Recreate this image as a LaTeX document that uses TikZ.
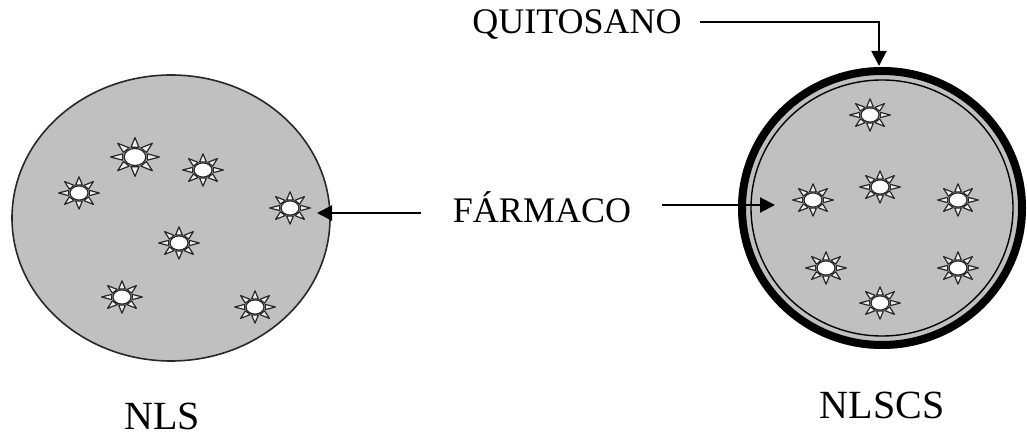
\documentclass[tikz,border=0pt]{standalone}
\usepackage{fontspec}
\setmainfont{Liberation Serif}
\usetikzlibrary{arrows.meta}

\definecolor{nucleo}{RGB}{192,192,192}
\definecolor{borde}{RGB}{40,40,40}

\tikzset{
  rotulo/.style={font=\fontsize{18}{20}\selectfont, inner sep=0pt},
  siglas/.style={font=\fontsize{20}{22}\selectfont, inner sep=0pt},
  flecha/.style={line width=1pt, -{Triangle[length=7.5pt,width=7.5pt]}},
  petalo/.style={draw=borde, fill=white!75!nucleo, line width=0.6pt, line join=round},
  pics/droga/.style={code={
    \begin{scope}[xscale=1.2,yscale=0.95]
      \foreach \a in {0,45,...,315}
        \draw[petalo, rotate=\a] (8.5,-2.8) -- (17,0) -- (8.5,2.8) -- cycle;
      \draw[draw=borde, line width=0.6pt, fill=white] (0,0) circle [radius=7.5];
    \end{scope}
  }}
}

\begin{document}
\begin{tikzpicture}[x=0.5pt,y=-0.5pt]
  \useasboundingbox (0,0) rectangle (1027,437);

  % nanopartícula sin recubrir
  \draw[fill=nucleo, draw=borde, line width=0.8pt] (171,218) ellipse [x radius=159, y radius=143];
  \pic[scale=1.2] at (135,157) {droga};
  \foreach \p in {(203,170),(79,193),(290,208),(179,243),(122,297),(255,307)}
    \pic at \p {droga};

  % nanopartícula con capa de quitosano
  \fill[nucleo] (882,208) ellipse [x radius=144, y radius=141];
  \draw[line width=4pt] (882,208) ellipse [x radius=140, y radius=137];
  \draw[line width=0.7pt] (882,208) ellipse [x radius=131, y radius=128];
  \foreach \p in {(870,115),(880,187),(813,200),(958,200),(826,268),(958,268),(880,303)}
    \pic at \p {droga};

  % rótulos
  \node[rotulo] (quitosano) at (577,25) {QUITOSANO};
  \node[rotulo] (farmaco) at (542,207) {FÁRMACO};
  \node[siglas] (nls) at (162,416) {NLS};
  \node[siglas] (nlscs) at (882,405) {NLSCS};

  \coordinate (capa) at (879,66);
  \coordinate (punta nls) at (317,213);
  \coordinate (punta nlscs) at (775,205);
  \draw[flecha] ([xshift=9pt,yshift=1.5pt]quitosano.east) -| (capa);
  \draw[flecha] ([xshift=-16pt,yshift=-3pt]farmaco.west) -- (punta nls);
  \draw[flecha] ([xshift=15.5pt,yshift=1pt]farmaco.east) -- (punta nlscs);
\end{tikzpicture}
\end{document}
